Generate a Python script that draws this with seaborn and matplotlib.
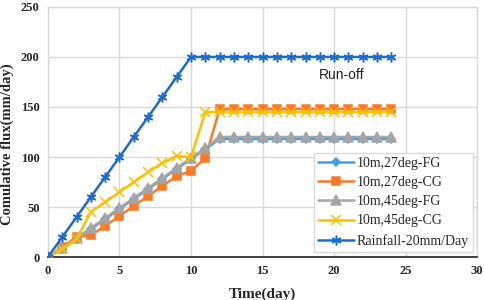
import numpy as np
import pandas as pd
import matplotlib
matplotlib.use("Agg")
import matplotlib.pyplot as plt
import seaborn as sns

days = list(range(0, 25))
fg27 = [0, 8, 18, 28, 38, 48, 58, 68, 78, 88, 98, 108, 118] + [118] * 12
cg27 = [0, 10, 20, 22, 31, 41, 51, 61, 71, 81, 86, 99, 148] + [148] * 12
fg45 = [0, 9, 19, 29, 39, 49, 59, 69, 79, 89, 99, 109, 120] + [120] * 12
cg45 = [0, 8, 18, 45, 55, 65, 75, 85, 94, 101, 100, 145, 145] + [145] * 12
rain = [0, 20, 40, 60, 80, 100, 120, 140, 160, 180, 200] + [200] * 14

names = ["10m,27deg-FG", "10m,27deg-CG", "10m,45deg-FG", "10m,45deg-CG", "Rainfall-20mm/Day"]
series = [fg27, cg27, fg45, cg45, rain]
colors = ["#3FA3E0", "#F97B28", "#A5A5A5", "#FFC000", "#1F6CC8"]
markers = ["D", "s", "^", "x", (6, 2, 0)]
msizes = [4.5, 6, 6.5, 6.5, 7]

df = pd.concat([pd.DataFrame({"day": days, "flux": s, "series": n}) for n, s in zip(names, series)],
               ignore_index=True)

sns.set_theme(style="white")
fig = plt.figure(figsize=(4.84, 3.0), dpi=100)
ax = fig.add_axes([0.099, 0.143, 0.887, 0.834])

for n, c, m, ms in zip(names, colors, markers, msizes):
    sub = df[df["series"] == n]
    sns.lineplot(data=sub, x="day", y="flux", ax=ax, color=c, marker=m, markersize=ms,
                 markeredgecolor=c, markeredgewidth=1.1, linewidth=1.8, label=n, zorder=3)

ax.set_xlim(0, 30)
ax.set_ylim(0, 250)
ax.set_xticks(range(0, 31, 5))
ax.set_yticks(range(0, 251, 50))
ax.grid(True, color="#D9D9D9", linewidth=1.0)
ax.set_axisbelow(True)
for s in ["top", "right", "left"]:
    ax.spines[s].set_color("#D9D9D9")
    ax.spines[s].set_linewidth(1.0)
ax.spines["bottom"].set_color("#333333")
ax.spines["bottom"].set_linewidth(1.3)
ax.tick_params(axis="both", length=0, pad=6)
for lab in ax.get_xticklabels() + ax.get_yticklabels():
    lab.set_fontfamily("Liberation Serif")
    lab.set_fontweight("bold")
    lab.set_fontsize(9)
ax.set_xlabel("Time(day)", fontfamily="Liberation Serif", fontweight="bold", fontsize=11)
ax.xaxis.set_label_coords(0.5, -0.12)
ax.set_ylabel("Comulative flux(mm/day)", fontfamily="Liberation Serif", fontweight="bold", fontsize=10.5)
ax.yaxis.set_label_coords(-0.078, 0.45)

ax.text(18.9, 182, "Run-off", fontfamily="Liberation Sans", fontsize=10, va="center", ha="left", color="#222222")

leg = ax.legend(loc="lower right", bbox_to_anchor=(1.0, 0.005), prop={"family": "Liberation Serif", "size": 10},
                frameon=True, fancybox=False, edgecolor="#D9D9D9", framealpha=1, borderpad=0.3,
                labelspacing=0.45, handlelength=2.6, handletextpad=0.2, borderaxespad=0.3)
leg.get_frame().set_linewidth(1.0)

fig.savefig("out.png", dpi=100)
